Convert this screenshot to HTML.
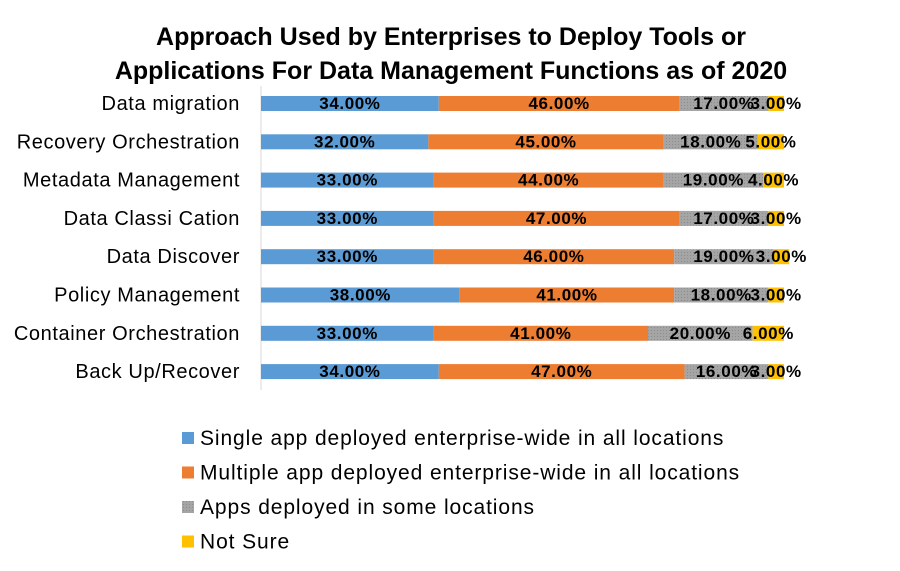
<!DOCTYPE html>
<html><head><meta charset="utf-8"><style>
body{margin:0;background:#fff;}
svg{display:block;font-family:"Liberation Sans",sans-serif;}
</style></head><body>
<svg width="900" height="571">
<defs><pattern id="dots" width="3" height="3" patternUnits="userSpaceOnUse"><rect width="3" height="3" fill="#a5a5a5"/><rect width="1" height="1" fill="#8c8c8c"/></pattern></defs>
<text x="451" y="45" text-anchor="middle" font-size="25" font-weight="bold">Approach Used by Enterprises to Deploy Tools or</text>
<text x="451" y="79" text-anchor="middle" font-size="25" font-weight="bold">Applications For Data Management Functions as of 2020</text>
<line x1="261" y1="86" x2="261" y2="390" stroke="#d9d9d9"/>
<g id="bars"></g>
<g id="legend"></g>
</svg>
<script>
const categories=["Data migration","Recovery Orchestration","Metadata Management","Data Classi Cation","Data Discover","Policy Management","Container Orchestration","Back Up/Recover"];
const single=[34,32,33,33,33,38,33,34];
const multiple=[46,45,44,47,46,41,41,47];
const some=[17,18,19,17,19,18,20,16];
const notSure=[3,5,4,3,3,3,6,3];
const seriesNames=["Single app deployed enterprise-wide in all locations","Multiple app deployed enterprise-wide in all locations","Apps deployed in some locations","Not Sure"];
const colors=["#5b9bd5","#ed7d31","url(#dots)","#ffc000"];
const NS="http://www.w3.org/2000/svg";
const x0=261,pxPer=5.23;
function xs(v){return x0+v*pxPer;}
function yc(i){return 103+i*38.3;}
const g=document.getElementById('bars');
const series=[single,multiple,some,notSure];
categories.forEach((c,i)=>{
  const t=document.createElementNS(NS,'text');
  t.setAttribute('x',240);t.setAttribute('y',yc(i)+7);t.setAttribute('text-anchor','end');t.setAttribute('font-size','20');t.setAttribute('letter-spacing','0.6');
  t.textContent=c;
  
  
  g.appendChild(t);
  let acc=0;
  series.forEach((s,k)=>{
    const r=document.createElementNS(NS,'rect');
    r.setAttribute('x',xs(acc));r.setAttribute('y',yc(i)-7);r.setAttribute('width',s[i]*pxPer);r.setAttribute('height',15);r.setAttribute('fill',colors[k]);
    
    
    g.appendChild(r);
    acc+=s[i];
  });
  acc=0;
  series.forEach((s,k)=>{
    const l=document.createElementNS(NS,'text');
    l.setAttribute('x',xs(acc+s[i]/2));l.setAttribute('y',yc(i)+6);l.setAttribute('text-anchor','middle');l.setAttribute('font-size','17');l.setAttribute('font-weight','bold');l.setAttribute('letter-spacing','0.6');
    l.textContent=s[i].toFixed(2)+'%';
    
    
    g.appendChild(l);
    acc+=s[i];
  });
});
const lg=document.getElementById('legend');
seriesNames.forEach((n,k)=>{
  const y=438+k*34.5;
  const r=document.createElementNS(NS,'rect');
  r.setAttribute('x',182);r.setAttribute('y',y-6);r.setAttribute('width',12);r.setAttribute('height',12);r.setAttribute('fill',colors[k]);
  
  
  lg.appendChild(r);
  const t=document.createElementNS(NS,'text');
  t.setAttribute('x',200);t.setAttribute('y',y+7);t.setAttribute('font-size','21');t.setAttribute('letter-spacing','0.9');
  t.textContent=n;
  
  
  lg.appendChild(t);
});
</script>
</body></html>
